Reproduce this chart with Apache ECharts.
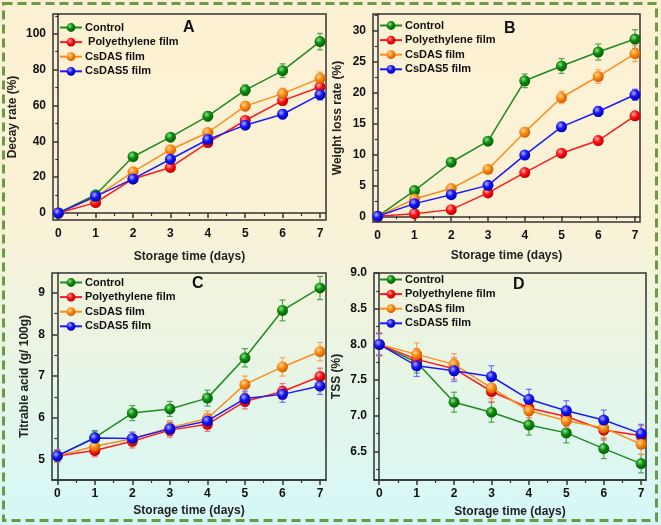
<!DOCTYPE html>
<html><head><meta charset="utf-8">
<script src="https://cdn.jsdelivr.net/npm/echarts@6/dist/echarts.min.js"></script>
<style>
html,body{margin:0;padding:0;}
#c{width:661px;height:525px;background:linear-gradient(to bottom,#fdf1d3 0%,#faf2d6 42%,#e9f5e4 68%,#d5f8f8 100%);}
</style>
</head><body><div id="c"></div>
<script>
// ---------- data ----------
const days = [0, 1, 2, 3, 4, 5, 6, 7];
const seriesNames = ['Control', 'Polyethylene film', 'CsDAS film', 'CsDAS5 film'];

// Panel A: Decay rate (%)
const decayControl = [0, 10.2, 31.4, 42.3, 54.0, 68.5, 79.4, 95.6];
const decayPE      = [0, 5.8, 19.0, 25.4, 39.3, 51.6, 62.7, 70.3];
const decayCsDAS   = [0, 8.9, 23.0, 35.3, 44.9, 59.6, 66.6, 75.1];
const decayCsDAS5  = [0, 9.3, 19.0, 30.0, 41.0, 49.0, 55.1, 66.0];
const decayErrControl = [1, 1.5, 2, 2, 2.5, 3, 3.8, 4.6];
const decayErrPE      = [0.5, 1, 1, 1.2, 1.5, 2, 2.5, 3];
const decayErrCsDAS   = [0.5, 1, 1.2, 1.5, 2, 2.5, 3, 3.5];
const decayErrCsDAS5  = [0.5, 1, 1, 1.5, 1.8, 2, 2.5, 3];

// Panel B: Weight loss rate (%)
const weightControl = [0, 4.16, 8.74, 12.14, 21.9, 24.3, 26.55, 28.65];
const weightPE      = [0, 0.43, 1.08, 3.78, 7.07, 10.2, 12.25, 16.24];
const weightCsDAS   = [0, 2.8, 4.48, 7.6, 13.6, 19.2, 22.6, 26.3];
const weightCsDAS5  = [0, 2.05, 3.5, 5.0, 9.9, 14.46, 16.95, 19.64];
const weightErrControl = [0.2, 0.4, 0.5, 0.6, 1.1, 1.2, 1.3, 1.5];
const weightErrPE      = [0.1, 0.2, 0.3, 0.4, 0.4, 0.5, 0.5, 0.6];
const weightErrCsDAS   = [0.1, 0.3, 0.4, 0.5, 0.7, 1.0, 1.1, 1.3];
const weightErrCsDAS5  = [0.1, 0.3, 0.3, 0.4, 0.5, 0.6, 0.8, 0.9];

// Panel C: Titrable acid (g/ 100g)
const acidControl = [5.08, 5.52, 6.11, 6.21, 6.47, 7.44, 8.58, 9.12];
const acidPE      = [5.08, 5.21, 5.43, 5.70, 5.84, 6.39, 6.63, 6.99];
const acidCsDAS   = [5.08, 5.31, 5.49, 5.76, 5.98, 6.80, 7.22, 7.59];
const acidCsDAS5  = [5.08, 5.51, 5.50, 5.73, 5.92, 6.46, 6.56, 6.76];
const acidErrControl = [0.15, 0.17, 0.18, 0.18, 0.19, 0.22, 0.25, 0.28];
const acidErrPE      = [0.14, 0.15, 0.16, 0.17, 0.17, 0.18, 0.19, 0.2];
const acidErrCsDAS   = [0.14, 0.15, 0.16, 0.17, 0.18, 0.2, 0.22, 0.22];
const acidErrCsDAS5  = [0.14, 0.15, 0.15, 0.16, 0.17, 0.18, 0.19, 0.2];

// Panel D: TSS (%)
const tssControl = [8.0, 7.75, 7.19, 7.05, 6.87, 6.76, 6.54, 6.33];
const tssPE      = [8.0, 7.79, 7.66, 7.34, 7.11, 6.99, 6.80, 6.72];
const tssCsDAS   = [8.0, 7.86, 7.72, 7.39, 7.07, 6.93, 6.83, 6.60];
const tssCsDAS5  = [8.0, 7.70, 7.63, 7.55, 7.23, 7.07, 6.94, 6.75];
const tssErrControl = [0.16, 0.15, 0.14, 0.14, 0.14, 0.14, 0.14, 0.13];
const tssErrPE      = [0.15, 0.15, 0.15, 0.15, 0.14, 0.14, 0.14, 0.14];
const tssErrCsDAS   = [0.16, 0.16, 0.15, 0.15, 0.14, 0.14, 0.14, 0.14];
const tssErrCsDAS5  = [0.15, 0.15, 0.15, 0.15, 0.14, 0.14, 0.14, 0.13];

// Tick labels
const xTicks = [0, 1, 2, 3, 4, 5, 6, 7];
const xMinorTicks = [0.5, 1.5, 2.5, 3.5, 4.5, 5.5, 6.5];
const decayTicks = [0, 20, 40, 60, 80, 100];
const decayMinor = [10, 30, 50, 70, 90, 110];
const weightTicks = [0, 5, 10, 15, 20, 25, 30];
const weightMinor = [2.5, 7.5, 12.5, 17.5, 22.5, 27.5, 32.5];
const acidTicks = [5, 6, 7, 8, 9];
const acidMinor = [4.5, 5.5, 6.5, 7.5, 8.5];
const tssTicks = [6.5, 7.0, 7.5, 8.0, 8.5, 9.0];
const tssMinor = [6.25, 6.75, 7.25, 7.75, 8.25, 8.75];

// ---------- styling ----------
const FONT = '"Liberation Sans", Arial, sans-serif';
const lineColors = ['#1f8a1f', '#ff1a1a', '#ff8c1a', '#1a1aff'];
const ballStops = [
  ['#8fe08f', '#0d8c0d', '#045a04'],
  ['#ffb0b0', '#ff1010', '#b00000'],
  ['#ffd7a0', '#ff8a10', '#c05a00'],
  ['#b0b0ff', '#1515ff', '#0000a0']
];
const errColors = ['rgba(60,150,60,0.85)', 'rgba(255,90,90,0.85)', 'rgba(255,150,70,0.85)', 'rgba(90,90,255,0.85)'];
const AX = '#333';

function ball(i) {
  return {
    type: 'radial', x: 0.38, y: 0.35, r: 0.7,
    colorStops: [
      { offset: 0, color: ballStops[i][0] },
      { offset: 0.45, color: ballStops[i][1] },
      { offset: 1, color: ballStops[i][2] }
    ]
  };
}

const panels = [
  { grid: { left: 53, top: 14, width: 273, height: 206 }, xMin: -0.14, xMax: 7.16, yMin: -3.9, yMax: 111,
    yTicks: decayTicks, yMinor: decayMinor, yName: 'Decay rate (%)', yGap: 34, xGap: 31, fmt: v => String(v),
    vals: [decayControl, decayPE, decayCsDAS, decayCsDAS5], errs: [decayErrControl, decayErrPE, decayErrCsDAS, decayErrCsDAS5],
    letter: 'A', lx: 189, ly: 30, legLeft: 59, legTop: 22, pad: true },
  { grid: { left: 373, top: 14, width: 267, height: 208 }, xMin: -0.128, xMax: 7.136, yMin: -0.92, yMax: 32.7,
    yTicks: weightTicks, yMinor: weightMinor, yName: 'Weight loss rate (%)', yGap: 29, xGap: 28, fmt: v => String(v),
    vals: [weightControl, weightPE, weightCsDAS, weightCsDAS5], errs: [weightErrControl, weightErrPE, weightErrCsDAS, weightErrCsDAS5],
    letter: 'B', lx: 510, ly: 31, legLeft: 379, legTop: 20, pad: false },
  { grid: { left: 52, top: 273, width: 274, height: 207 }, xMin: -0.14, xMax: 7.16, yMin: 4.5, yMax: 9.48,
    yTicks: acidTicks, yMinor: acidMinor, yName: 'Titrable acid (g/ 100g)', yGap: 21, xGap: 25, fmt: v => String(v),
    vals: [acidControl, acidPE, acidCsDAS, acidCsDAS5], errs: [acidErrControl, acidErrPE, acidErrCsDAS, acidErrCsDAS5],
    letter: 'C', lx: 198, ly: 286, legLeft: 59, legTop: 277, pad: false },
  { grid: { left: 374, top: 273, width: 272, height: 207 }, xMin: -0.14, xMax: 7.13, yMin: 6.1, yMax: 9.0,
    yTicks: tssTicks, yMinor: tssMinor, yName: 'TSS (%)', yGap: 31, xGap: 26, fmt: v => v.toFixed(1),
    vals: [tssControl, tssPE, tssCsDAS, tssCsDAS5], errs: [tssErrControl, tssErrPE, tssErrCsDAS, tssErrCsDAS5],
    letter: 'D', lx: 519, ly: 287, legLeft: 379, legTop: 274, pad: false }
];

const grids = [], xAxes = [], yAxes = [], series = [], titles = [], legends = [];
const nameStyle = { fontFamily: FONT, fontSize: 12, fontWeight: 'bold', color: '#222' };
const labelStyle = { fontFamily: FONT, fontSize: 12, fontWeight: 'bold', color: '#111' };

panels.forEach((p, i) => {
  grids.push(Object.assign({ show: true, borderColor: AX, borderWidth: 1.5, backgroundColor: 'transparent' }, p.grid));
  const xi = xAxes.length, yi = yAxes.length;
  xAxes.push({
    type: 'value', gridIndex: i, position: 'bottom', min: p.xMin, max: p.xMax,
    axisLine: { show: true, lineStyle: { color: AX, width: 1.5 } },
    axisTick: { show: true, customValues: xTicks, length: 5, lineStyle: { color: AX, width: 1.5 } },
    axisLabel: Object.assign({ customValues: xTicks, margin: 8 }, labelStyle),
    splitLine: { show: false },
    name: 'Storage time (days)', nameLocation: 'middle', nameGap: p.xGap, nameTextStyle: nameStyle
  });
  xAxes.push({
    type: 'value', gridIndex: i, position: 'bottom', min: p.xMin, max: p.xMax,
    axisLine: { show: false },
    axisTick: { show: true, customValues: xMinorTicks, length: 3, lineStyle: { color: AX, width: 1.2 } },
    axisLabel: { show: false }, splitLine: { show: false }
  });
  yAxes.push({
    type: 'value', gridIndex: i, position: 'left', min: p.yMin, max: p.yMax,
    axisLine: { show: true, lineStyle: { color: AX, width: 1.5 } },
    axisTick: { show: true, customValues: p.yTicks, length: 5, lineStyle: { color: AX, width: 1.5 } },
    axisLabel: Object.assign({ customValues: p.yTicks, margin: 7, formatter: p.fmt }, labelStyle),
    splitLine: { show: false },
    name: p.yName, nameLocation: 'middle', nameGap: p.yGap, nameRotate: 90, nameTextStyle: nameStyle
  });
  yAxes.push({
    type: 'value', gridIndex: i, position: 'left', min: p.yMin, max: p.yMax,
    axisLine: { show: false },
    axisTick: { show: true, customValues: p.yMinor.filter(v => v > p.yMin && v < p.yMax), length: 3, lineStyle: { color: AX, width: 1.2 } },
    axisLabel: { show: false }, splitLine: { show: false }
  });

  p.vals.forEach((vals, k) => {
    const errs = p.errs[k];
    series.push({
      type: 'custom', name: 'err' + i + k, xAxisIndex: xi, yAxisIndex: yi, silent: true, z: 1,
      data: days.map((d, j) => [d, vals[j], errs[j]]),
      encode: { x: 0, y: 1 },
      renderItem: (params, api) => {
        const x = api.value(0), y = api.value(1), e = api.value(2);
        const hi = api.coord([x, y + e]), lo = api.coord([x, y - e]);
        const w = 3;
        const st = { stroke: errColors[k], lineWidth: 1.2 };
        return { type: 'group', children: [
          { type: 'line', shape: { x1: hi[0], y1: hi[1], x2: lo[0], y2: lo[1] }, style: st },
          { type: 'line', shape: { x1: hi[0] - w, y1: hi[1], x2: hi[0] + w, y2: hi[1] }, style: st },
          { type: 'line', shape: { x1: lo[0] - w, y1: lo[1], x2: lo[0] + w, y2: lo[1] }, style: st }
        ] };
      }
    });
    series.push({
      type: 'line', name: seriesNames[k], xAxisIndex: xi, yAxisIndex: yi, z: 2 + k,
      data: days.map((d, j) => [d, vals[j]]),
      symbol: 'circle', symbolSize: 11, showAllSymbol: true,
      lineStyle: { color: lineColors[k], width: 1.5 },
      itemStyle: { color: ball(k), borderWidth: 0 },
      emphasis: { disabled: true }, animation: false
    });
  });

  titles.push({ text: p.letter, left: p.lx - 6, top: p.ly - 10,
    textStyle: { fontFamily: FONT, fontSize: 16, fontWeight: 'bold', color: '#111' }, padding: 0 });

  legends.push({
    left: p.legLeft, top: p.legTop, orient: 'vertical', itemWidth: 22, itemHeight: 11, itemGap: 3.6,
    selectedMode: false, data: seriesNames.slice(), padding: 0,
    formatter: p.pad ? (n => n === 'Polyethylene film' ? ' ' + n : n) : (n => n),
    textStyle: { fontFamily: FONT, fontSize: 11, fontWeight: 'bold', color: '#111', padding: [0, 0, 0, -2] }
  });
});

const chart = echarts.init(document.getElementById('c'), null, { renderer: 'canvas' });
chart.setOption({
  animation: false,
  backgroundColor: 'transparent',
  title: titles,
  legend: legends,
  grid: grids,
  xAxis: xAxes,
  yAxis: yAxes,
  series: series,
  graphic: [{
    type: 'rect', silent: true, z: -1,
    shape: { x: 3.5, y: 3.5, width: 653, height: 517 },
    style: { fill: 'none', stroke: '#6b9a45', lineWidth: 3, lineDash: [9, 5] }
  }]
});
</script>
</body></html>
